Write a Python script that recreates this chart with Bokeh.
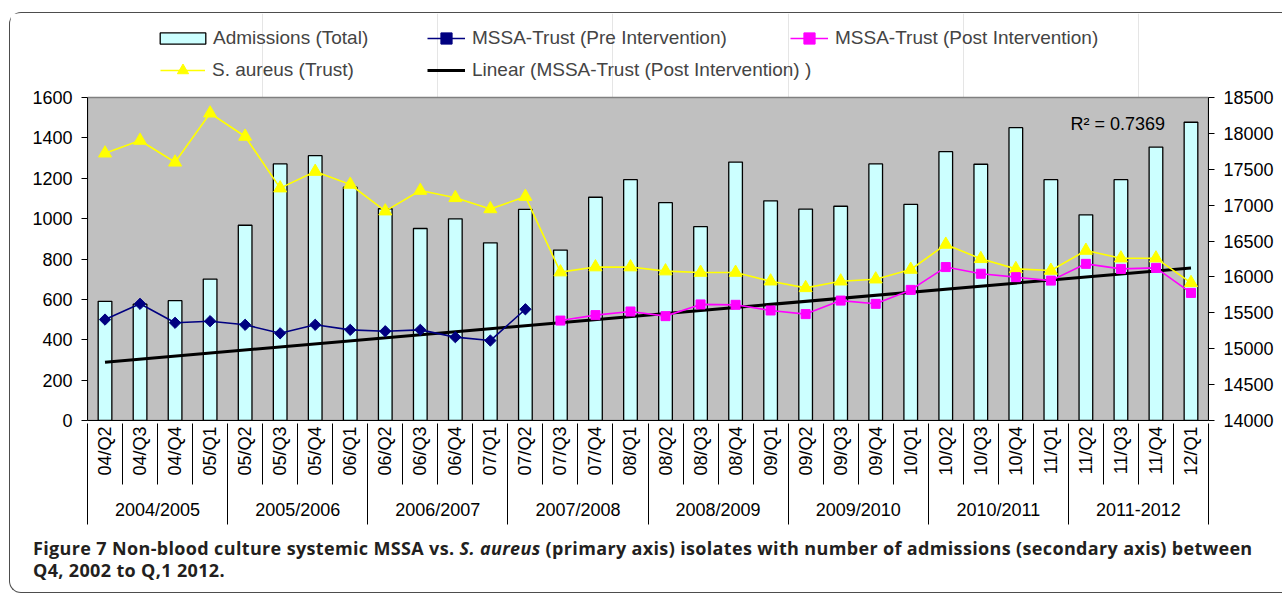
import numpy as np
from bokeh.plotting import figure
from bokeh.models import (Range1d, LinearAxis, FixedTicker, CustomJSTickFormatter,
                          Legend, LegendItem, Label, Div, Grid, GlobalInlineStyleSheet)
from bokeh.layouts import column
from bokeh.embed import file_html
from bokeh.resources import INLINE

quarters = ["04/Q2", "04/Q3", "04/Q4", "05/Q1", "05/Q2", "05/Q3", "05/Q4", "06/Q1",
            "06/Q2", "06/Q3", "06/Q4", "07/Q1", "07/Q2", "07/Q3", "07/Q4", "08/Q1",
            "08/Q2", "08/Q3", "08/Q4", "09/Q1", "09/Q2", "09/Q3", "09/Q4", "10/Q1",
            "10/Q2", "10/Q3", "10/Q4", "11/Q1", "11/Q2", "11/Q3", "11/Q4", "12/Q1"]
years = ["2004/2005", "2005/2006", "2006/2007", "2007/2008",
         "2008/2009", "2009/2010", "2010/2011", "2011-2012"]
admissions = [15660, 15620, 15670, 15970, 16720, 17575, 17690, 17250,
              16950, 16675, 16810, 16475, 16940, 16375, 17110, 17355,
              17035, 16700, 17600, 17060, 16945, 16985, 17575, 17010,
              17745, 17570, 18080, 17355, 16865, 17355, 17810, 18155]
saureus = [1324, 1387, 1279, 1522, 1407, 1151, 1233, 1169,
           1037, 1139, 1103, 1048, 1109, 735, 760, 760,
           740, 733, 733, 690, 657, 690, 700, 748,
           872, 801, 751, 743, 842, 804, 804, 682]
pre_quarters = quarters[:13]
mssa_pre = [500, 578, 484, 492, 474, 432, 474, 449, 442, 449, 413, 396, 551]
post_quarters = quarters[13:]
mssa_post = [495, 522, 540, 517, 575, 573, 545, 527, 594, 578, 647,
             760, 727, 710, 693, 776, 751, 756, 632]
trend_quarters = [quarters[0], quarters[-1]]
trend_values = [289, 756]
r2_text = "R² = 0.7369"

FONT = "Liberation Sans"
n = len(quarters)
ng = len(years)
Y0, Y1 = 0, 1600          # primary axis
A0, A1 = 14000, 18500     # secondary axis

# layout (pixels): plot area 323 px tall, 84 px of legend space above it inside the frame
PLOT_H, TOP_H, BOTTOM_H = 323, 84, 110
ext = (PLOT_H + TOP_H) / PLOT_H


def pos(labels):
    """Category centre positions on the numeric x scale."""
    return [quarters.index(q) + 0.5 for q in labels]


p = figure(x_range=Range1d(0, n), y_range=Range1d(Y0, Y0 + (Y1 - Y0) * ext),
           width=1272, height=PLOT_H + TOP_H + BOTTOM_H, output_backend="svg",
           toolbar_location=None, x_axis_location=None, y_axis_location=None,
           min_border_left=77, min_border_right=74, min_border_top=0,
           min_border_bottom=BOTTOM_H,
           background_fill_color="white", border_fill_color="white",
           outline_line_color=None)
p.extra_y_ranges = {"adm": Range1d(A0, A0 + (A1 - A0) * ext)}

# grey plot area
p.quad(left=[0], right=[n], bottom=[Y0], top=[Y1], fill_color="#C0C0C0",
       line_color="#808080", line_width=1.5)

# grid
p.add_layout(Grid(dimension=1, ticker=FixedTicker(ticks=list(range(200, 1600, 200))),
                  grid_line_color="black", grid_line_width=1))

# value axes
common_y = dict(major_tick_out=6, major_tick_in=0, minor_tick_out=0, minor_tick_in=0,
                major_label_standoff=9, major_label_text_font=FONT,
                major_label_text_font_size="18px", major_label_text_color="black",
                axis_line_color="black", major_tick_line_color="black")
p.add_layout(LinearAxis(ticker=FixedTicker(ticks=list(range(Y0, Y1 + 1, 200))),
                        bounds=(Y0, Y1), **common_y), "left")
p.add_layout(LinearAxis(y_range_name="adm", bounds=(A0, A1),
                        ticker=FixedTicker(ticks=list(range(A0, A1 + 1, 500))), **common_y), "right")

# category axes (stacked below the frame)
xa = LinearAxis(ticker=FixedTicker(ticks=[i + 0.5 for i in range(n)]),
                formatter=CustomJSTickFormatter(args=dict(labels=quarters),
                                                code="return labels[Math.floor(tick)];"),
                major_label_orientation=np.pi / 2, major_tick_out=0, major_tick_in=0,
                major_tick_line_color=None, minor_tick_out=0, minor_tick_in=0,
                minor_tick_line_color=None, major_label_standoff=6,
                major_label_text_font=FONT, major_label_text_font_size="18px",
                major_label_text_color="black", axis_line_color="black")
xb = LinearAxis(ticker=FixedTicker(ticks=[], minor_ticks=list(range(n + 1))),
                major_tick_out=0, major_tick_in=0, major_label_standoff=0,
                minor_tick_in=55, minor_tick_out=6, minor_tick_line_color="black",
                axis_line_color=None)
xc = LinearAxis(ticker=FixedTicker(ticks=[4 * i + 2 for i in range(ng)]),
                formatter=CustomJSTickFormatter(args=dict(labels=years),
                                                code="return labels[Math.floor(tick / 4)];"),
                major_tick_out=0, major_tick_in=0, major_tick_line_color=None,
                minor_tick_out=0, minor_tick_in=0, minor_tick_line_color=None,
                major_label_standoff=15, major_label_text_font=FONT,
                major_label_text_font_size="18px", major_label_text_color="black",
                axis_line_color=None)
xd = LinearAxis(ticker=FixedTicker(ticks=[], minor_ticks=[4 * i for i in range(ng + 1)]),
                major_tick_out=0, major_tick_in=0, major_label_standoff=0,
                minor_tick_in=55, minor_tick_out=2, minor_tick_line_color="black",
                axis_line_color=None)
for ax in (xa, xb, xc, xd):
    p.add_layout(ax, "below")

# glyphs
bars = p.vbar(x=pos(quarters), top=admissions, bottom=A0, width=0.39, y_range_name="adm",
              fill_color="#CCFFFF", line_color="black", line_width=1.3)
trend = p.line(x=pos(trend_quarters), y=trend_values, line_color="black", line_width=3)
sa_l = p.line(x=pos(quarters), y=saureus, line_color="#FFFF00", line_width=1.6)
sa_m = p.scatter(x=pos(quarters), y=saureus, marker="triangle", size=13,
                 fill_color="#FFFF00", line_color="#FFFF00")
pre_l = p.line(x=pos(pre_quarters), y=mssa_pre, line_color="#000080", line_width=1.6)
pre_m = p.scatter(x=pos(pre_quarters), y=mssa_pre, marker="square", angle=0.785398, size=8,
                  fill_color="#000080", line_color="#000080")
post_l = p.line(x=pos(post_quarters), y=mssa_post, line_color="#FF00FF", line_width=1.6)
post_m = p.scatter(x=pos(post_quarters), y=mssa_post, marker="square", size=9,
                   fill_color="#FF00FF", line_color="#FF00FF")

p.add_layout(Label(x=28.06, y=1471, text=r2_text, text_font=FONT,
                   text_font_size="18px", text_baseline="middle", text_color="black"))


def add_legend(label, renderers, x, y, gw, gh, standoff):
    lg = Legend(items=[LegendItem(label=label, renderers=renderers)],
                location=(x, y), orientation="horizontal", glyph_width=gw, glyph_height=gh,
                label_standoff=standoff, padding=0, margin=0, spacing=0,
                border_line_color=None, background_fill_alpha=0,
                label_text_font=FONT, label_text_font_size="19px", label_height=20)
    p.add_layout(lg, "center")


add_legend("Admissions (Total)", [bars], 67, 371, 57, 14, 2)
add_legend("MSSA-Trust (Pre Intervention)", [pre_l, pre_m], 340, 368, 38, 28, 7)
add_legend("MSSA-Trust (Post Intervention)", [post_l, post_m], 703, 368, 38, 28, 7)
add_legend("S. aureus (Trust)", [sa_l, sa_m], 73, 336, 45, 28, 7)
add_legend("Linear (MSSA-Trust (Post Intervention) )", [trend], 340, 336, 38, 28, 7)

caption = Div(
    text=('<b>Figure 7</b> <b>Non-blood culture systemic MSSA vs. <i>S. aureus</i> (primary axis) '
          'isolates with number of admissions (secondary axis) between<br>Q4, 2002 to Q,1 2012.</b>'),
    width=1260, height=62, margin=0,
    styles={"font-family": "Open Sans", "font-size": "18px", "letter-spacing": "0.35px",
            "line-height": "22px", "color": "#231f20", "padding-left": "23px",
            "padding-top": "7px", "white-space": "nowrap"})

layout = column(p, caption,
                styles={"border": "1px solid #4d4d4d", "border-right": "none",
                        "border-radius": "12px 0 0 12px", "margin-top": "12px", "margin-left": "9px"},
                stylesheets=[GlobalInlineStyleSheet(css="html, body {overflow: hidden;}")])

open("out.html", "w").write(file_html(layout, INLINE))
